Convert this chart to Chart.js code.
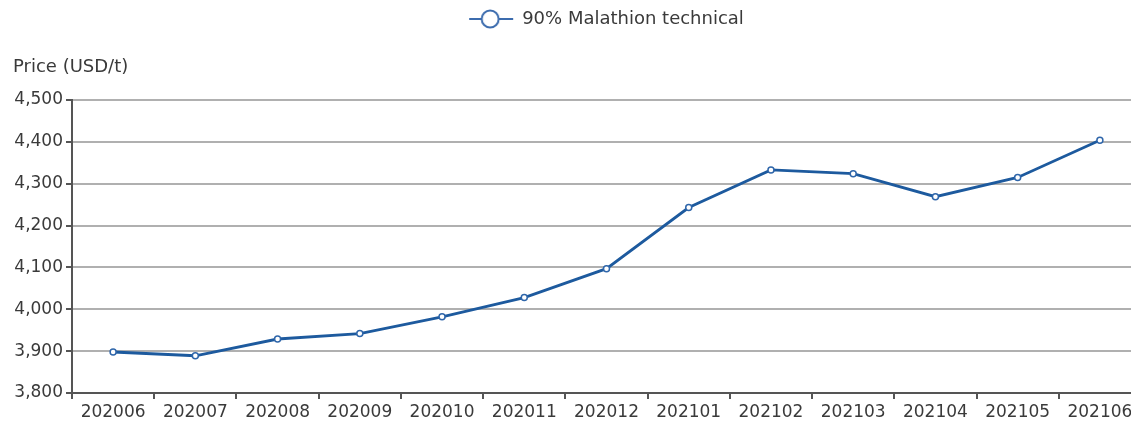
<!DOCTYPE html>
<html>
<head>
<meta charset="utf-8">
<script src="https://cdn.jsdelivr.net/npm/chart.js@4/dist/chart.umd.min.js"></script>
<style>
  html, body { margin: 0; padding: 0; background: #fff; overflow: hidden; }
  #wrap { position: relative; width: 1150px; height: 423px; }
</style>
</head>
<body>
<div id="wrap"><canvas id="c" width="1150" height="423"></canvas></div>
<script>
const categories = ['202006','202007','202008','202009','202010','202011','202012','202101','202102','202103','202104','202105','202106'];
const seriesName = '90% Malathion technical';
const prices = [3898, 3889, 3929, 3942, 3982, 4028, 4097, 4243, 4333, 4324, 4269, 4315, 4404];
const yMin = 3800, yMax = 4500, yStep = 100;
const yAxisTitle = 'Price (USD/t)';

const FONT = "'DejaVu Sans', sans-serif";
const LINE = '#1d5a9e';
const TEXT = '#3a3a3a';

// legend icon: short line through an open circle
function legendIcon() {
  const c = document.createElement('canvas');
  c.width = 46; c.height = 22;
  const x = c.getContext('2d');
  x.strokeStyle = '#3c6cae'; x.lineWidth = 2;
  x.beginPath(); x.moveTo(1, 11); x.lineTo(45, 11); x.stroke();
  x.beginPath(); x.arc(22, 11, 8.5, 0, Math.PI * 2);
  x.fillStyle = '#fff'; x.fill(); x.stroke();
  return c;
}
const icon = legendIcon();

const legendSpace = {
  id: 'legendSpace',
  beforeInit(chart) {
    const lg = chart.legend;
    if (!lg) return;
    const orig = lg.fit;
    lg.fit = function () { orig.call(this); this.height = 100; };
  }
};

const yTitlePlugin = {
  id: 'yTitle',
  afterDraw(chart) {
    const ctx = chart.ctx;
    ctx.save();
    ctx.font = '18px ' + FONT;
    ctx.fillStyle = TEXT;
    ctx.textBaseline = 'middle';
    ctx.textAlign = 'left';
    ctx.fillText(yAxisTitle, 13, chart.chartArea.top - 33);
    ctx.restore();
  }
};

new Chart(document.getElementById('c'), {
  type: 'line',
  data: {
    labels: categories,
    datasets: [{
      label: seriesName,
      data: prices,
      borderColor: LINE,
      borderWidth: 2.8,
      pointRadius: 3,
      pointBorderWidth: 1.5,
      pointBackgroundColor: '#fff',
      pointBorderColor: '#2f66aa',
      tension: 0
    }]
  },
  plugins: [legendSpace, yTitlePlugin],
  options: {
    responsive: false,
    animation: false,
    layout: { padding: { top: 0, left: 0, right: 9, bottom: 0 } },
    plugins: {
      tooltip: { enabled: false },
      legend: {
        position: 'top',
        fullSize: false,
        labels: {
          usePointStyle: true,
          pointStyleWidth: 44,
          font: { family: FONT, size: 18 },
          color: TEXT,
          padding: 10,
          generateLabels(chart) {
            return [{ text: seriesName, pointStyle: icon, fillStyle: '#fff', strokeStyle: LINE, lineWidth: 0, datasetIndex: 0, fontColor: TEXT }];
          }
        }
      }
    },
    scales: {
      x: {
        offset: true,
        grid: { offset: true, drawOnChartArea: false, drawTicks: true, tickLength: 6, color: '#555', lineWidth: 2 },
        border: { display: true, color: '#555', width: 2 },
        ticks: { font: { family: FONT, size: 17 }, color: TEXT, padding: 3, maxRotation: 0, autoSkip: false },
        afterFit(s) { s.height = 30; }
      },
      y: {
        min: yMin, max: yMax,
        grid: { color: '#b0b0b0', lineWidth: 2, tickLength: 6, tickColor: '#555', drawTicks: true },
        border: { display: true, color: '#555', width: 2 },
        ticks: {
          stepSize: yStep,
          font: { family: FONT, size: 17 }, color: TEXT, padding: 3,
          callback: v => v.toLocaleString('en-US')
        },
        afterFit(s) { s.width = 72; }
      }
    }
  }
});
</script>
</body>
</html>
